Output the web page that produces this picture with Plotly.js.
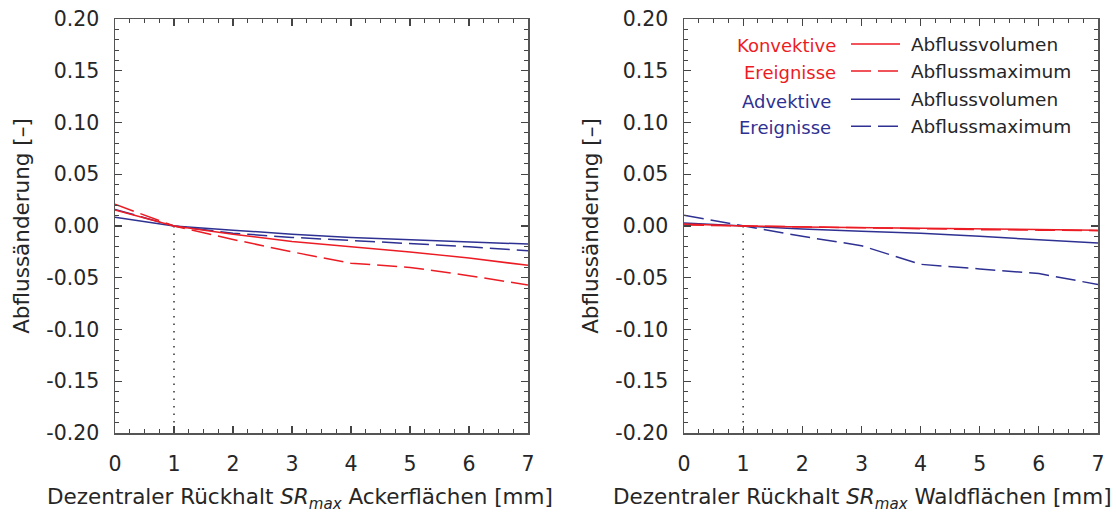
<!DOCTYPE html>
<html><head><meta charset="utf-8">
<script src="https://cdn.plot.ly/plotly-3.0.1.min.js"></script>
<style>html,body{margin:0;padding:0;background:#fff}#chart{width:1116px;height:517px}</style>
</head><body><div id="chart"></div>
<script>
// ---- data ----
const retention = [0, 1, 2, 3, 4, 5, 6, 7];

// Ackerflächen (left panel)
const ackerKonvVolumen = [0.0155, 0, -0.008, -0.015, -0.020, -0.025, -0.031, -0.038];
const ackerKonvMaximum = [0.021, 0, -0.013, -0.025, -0.036, -0.040, -0.048, -0.057];
const ackerAdvVolumen  = [0.0085, 0, -0.004, -0.008, -0.011, -0.013, -0.0155, -0.0175];
const ackerAdvMaximum  = [0.016, 0, -0.007, -0.011, -0.014, -0.017, -0.020, -0.024];

// Waldflächen (right panel)
const waldKonvVolumen = [0.002, 0, -0.001, -0.0015, -0.002, -0.0025, -0.003, -0.004];
const waldKonvMaximum = [0.001, 0, -0.001, -0.002, -0.003, -0.0035, -0.004, -0.0045];
const waldAdvVolumen  = [0.003, 0, -0.003, -0.005, -0.007, -0.010, -0.013, -0.0165];
const waldAdvMaximum  = [0.0105, 0, -0.010, -0.019, -0.037, -0.0415, -0.046, -0.0565];

// reference line at SRmax = 1 mm
const referenceX = [1, 1];
const referenceY = [0, -0.2];

const xTickVals = [0, 1, 2, 3, 4, 5, 6, 7];
const xTickLabels = ['0', '1', '2', '3', '4', '5', '6', '7'];
const yTickVals = [-0.2, -0.15, -0.1, -0.05, 0, 0.05, 0.1, 0.15, 0.2];
const yTickLabels = ['-0.20', '-0.15', '-0.10', '-0.05', '0.00', '0.05', '0.10', '0.15', '0.20'];

const seriesNames = ['Abflussvolumen', 'Abflussmaximum'];
const groupLabels = ['Konvektive', 'Ereignisse', 'Advektive', 'Ereignisse'];
const yTitle = 'Abflussänderung [–]';
const xTitleLeft = 'Dezentraler Rückhalt <i>SR<sub>max</sub></i> Ackerflächen [mm]';
const xTitleRight = 'Dezentraler Rückhalt <i>SR<sub>max</sub></i> Waldflächen [mm]';

// ---- style ----
const RED = '#ec1c24';
const BLUE = '#2e3192';
const TEXT = '#262626';
const FONT = 'DejaVu Sans, Verdana, sans-serif';
const DASH = '20px,7px';
const W = 1116, H = 517;
const PAD = '\u00a0';

function line(x, y, color, dash, xa, ya, name, group, show) {
  return {
    type: 'scatter', mode: 'lines', x: x, y: y, xaxis: xa, yaxis: ya,
    name: name, legendgroup: group, showlegend: show,
    line: {color: color, width: 1.5, dash: dash}, hoverinfo: 'skip'
  };
}

const traces = [
  line(referenceX, referenceY, '#333', '1.5px,6px', 'x', 'y', 'SRmax = 1', 'ref', false),
  line(retention, ackerAdvVolumen, BLUE, 'solid', 'x', 'y', seriesNames[0], 'adv', false),
  line(retention, ackerAdvMaximum, BLUE, DASH, 'x', 'y', seriesNames[1], 'adv', false),
  line(retention, ackerKonvVolumen, RED, 'solid', 'x', 'y', seriesNames[0], 'konv', false),
  line(retention, ackerKonvMaximum, RED, DASH, 'x', 'y', seriesNames[1], 'konv', false),

  line(referenceX, referenceY, '#333', '1.5px,6px', 'x2', 'y2', 'SRmax = 1', 'ref', false),
  line(retention, waldAdvVolumen, BLUE, 'solid', 'x2', 'y2', PAD + seriesNames[0], 'adv', true),
  line(retention, waldAdvMaximum, BLUE, DASH, 'x2', 'y2', PAD + seriesNames[1], 'adv', true),
  line(retention, waldKonvVolumen, RED, 'solid', 'x2', 'y2', PAD + seriesNames[0], 'konv', true),
  line(retention, waldKonvMaximum, RED, DASH, 'x2', 'y2', PAD + seriesNames[1], 'konv', true)
];
// legend order: konvektive first
traces[6].legendrank = 3; traces[7].legendrank = 4;
traces[8].legendrank = 1; traces[9].legendrank = 2;

const tickFont = {family: FONT, size: 20.5, color: TEXT};
const titleFont = {family: FONT, size: 21.5, color: TEXT};

function xAxis(domain, anchor) {
  return {
    domain: domain, anchor: anchor, range: [0, 7],
    tickmode: 'array', tickvals: xTickVals, ticktext: xTickLabels,
    ticks: 'inside', ticklen: 7, tickwidth: 1.2, tickcolor: '#444',
    showline: true, linecolor: '#555', linewidth: 1.5, mirror: 'allticks',
    showgrid: false, zeroline: false, ticklabelstandoff: 12,
    minor: {ticks: 'inside', ticklen: 4, tickwidth: 1, tickcolor: '#444', dtick: 0.25, tick0: 0, showgrid: false},
    tickfont: tickFont, fixedrange: true
  };
}
function yAxis(domain, anchor) {
  return {
    domain: domain, anchor: anchor, range: [-0.2, 0.2],
    tickmode: 'array', tickvals: yTickVals, ticktext: yTickLabels,
    ticks: 'inside', ticklen: 7, tickwidth: 1.2, tickcolor: '#444',
    showline: true, linecolor: '#555', linewidth: 1.5, mirror: 'allticks',
    showgrid: false, zeroline: false, ticklabelstandoff: 10,
    minor: {ticks: 'inside', ticklen: 4, tickwidth: 1, tickcolor: '#444', dtick: 0.01, tick0: 0, showgrid: false},
    tickfont: tickFont, fixedrange: true,
    title: {text: yTitle, font: titleFont, standoff: 11}
  };
}

const yDom = [1 - 433 / H, 1 - 19 / H];

function ann(text, xpx, ypx, opts) {
  return Object.assign({
    text: text, xref: 'paper', yref: 'paper', x: xpx / W, y: 1 - ypx / H,
    showarrow: false, font: titleFont, xanchor: 'center', yanchor: 'middle'
  }, opts || {});
}
const groupFont = (c) => ({family: FONT, size: 18, color: c});

const annotations = [
  ann(xTitleLeft, 300, 498),
  ann(xTitleRight, 862, 498),
  ann(groupLabels[0], 838, 46, {xanchor: 'right', font: groupFont(RED)}),
  ann(groupLabels[1], 838, 72, {xanchor: 'right', font: groupFont(RED)}),
  ann(groupLabels[2], 833, 102, {xanchor: 'right', font: groupFont(BLUE)}),
  ann(groupLabels[3], 833, 127, {xanchor: 'right', font: groupFont(BLUE)})
];

const layout = {
  width: W, height: H,
  margin: {l: 0, r: 0, t: 0, b: 0},
  paper_bgcolor: '#fff', plot_bgcolor: '#fff',
  font: {family: FONT, color: TEXT},
  xaxis: xAxis([115 / W, 528 / W], 'y'),
  yaxis: yAxis(yDom, 'x'),
  xaxis2: xAxis([684 / W, 1098 / W], 'y2'),
  yaxis2: yAxis(yDom, 'x2'),
  showlegend: true,
  legend: {
    x: 846 / W, y: 1 - 25.5 / H, xanchor: 'left', yanchor: 'top',
    bgcolor: 'rgba(0,0,0,0)', borderwidth: 0,
    font: {family: FONT, size: 18.5, color: TEXT},
    traceorder: 'grouped', tracegroupgap: 1, itemwidth: 49,
    itemclick: false, itemdoubleclick: false
  },
  annotations: annotations
};

Plotly.newPlot('chart', traces, layout, {staticPlot: true, displayModeBar: false});
</script>
</body></html>
